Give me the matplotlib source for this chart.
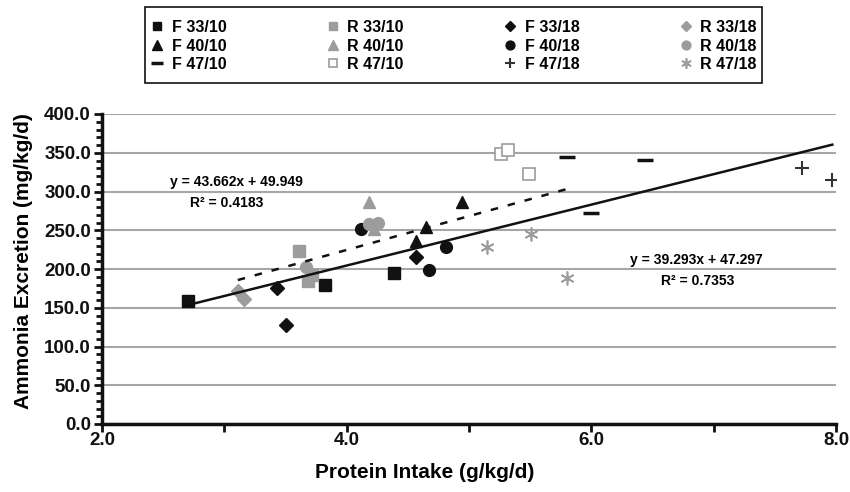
import matplotlib
matplotlib.use("Agg")
import matplotlib.pyplot as plt
from matplotlib.ticker import MultipleLocator, FixedLocator, FormatStrFormatter
from matplotlib.patches import Rectangle
import numpy as np

plt.rcParams['font.family'] = ['Liberation Sans', 'DejaVu Sans']
plt.rcParams['font.weight'] = 'bold'

# data (protein intake g/kg/d, ammonia mg/kg/d)
f33_10_x = [2.70, 3.82, 4.39]
f33_10_y = [159, 180, 195]
r33_10_x = [3.61, 3.68, 3.72]
r33_10_y = [223, 185, 192]
f33_18_x = [3.43, 3.50, 4.57]
f33_18_y = [175, 128, 215]
r33_18_x = [3.11, 3.16]
r33_18_y = [172, 161]
f40_10_x = [4.57, 4.65, 4.94]
f40_10_y = [236, 254, 286]
r40_10_x = [4.18, 4.22]
r40_10_y = [286, 251]
f40_18_x = [4.12, 4.67, 4.81]
f40_18_y = [251, 199, 228]
r40_18_x = [3.67, 4.18, 4.26]
r40_18_y = [202, 258, 260]
f47_10_x = [5.80, 6.00, 6.44]
f47_10_y = [344, 272, 341]
r47_10_x = [5.26, 5.32, 5.49]
r47_10_y = [348, 354, 323]
f47_18_x = [7.72, 7.97]
f47_18_y = [330, 315]
r47_18_x = [5.15, 5.51, 5.80]
r47_18_y = [229, 245, 188]

# fitted trend lines shown on the chart
fit_f = (39.293, 47.297, 0.7353)
fit_r = (43.662, 49.949, 0.4183)

BLK = '#111111'
GRY = '#9c9c9c'

fig = plt.figure(figsize=(8.5, 4.92), dpi=100)
ax = fig.add_axes([102/850, 1-424/492, 734/850, 310/492])

series = [
    ('F 33/10', f33_10_x, f33_10_y, dict(marker='s', ms=8, color=BLK)),
    ('F 40/10', f40_10_x, f40_10_y, dict(marker='^', ms=9, color=BLK)),
    ('F 47/10', f47_10_x, f47_10_y, dict(marker='_', ms=12, mew=2.5, color=BLK)),
    ('R 33/10', r33_10_x, r33_10_y, dict(marker='s', ms=8, color=GRY)),
    ('R 40/10', r40_10_x, r40_10_y, dict(marker='^', ms=9, color=GRY)),
    ('R 47/10', r47_10_x, r47_10_y, dict(marker='s', ms=8, mfc='white', mec=GRY, mew=1.2, color=GRY)),
    ('F 33/18', f33_18_x, f33_18_y, dict(marker='D', ms=7, color=BLK)),
    ('F 40/18', f40_18_x, f40_18_y, dict(marker='o', ms=8.5, color=BLK)),
    ('F 47/18', f47_18_x, f47_18_y, dict(marker='+', ms=10, mew=1.5, color='#333333')),
    ('R 33/18', r33_18_x, r33_18_y, dict(marker='D', ms=7, color=GRY)),
    ('R 40/18', r40_18_x, r40_18_y, dict(marker='o', ms=8.5, color=GRY)),
    ('R 47/18', r47_18_x, r47_18_y, dict(marker=(6, 2, 0), ms=10, mew=1.2, color=GRY)),
]

handles = []
for name, xs, ys, st in series:
    h, = ax.plot(xs, ys, ls='none', label=name, zorder=3, **st)
    handles.append(h)

# trend lines over the range of each group
fx = [x for n, xs, ys, st in series if n.startswith('F') for x in xs]
rx = [x for n, xs, ys, st in series if n.startswith('R') for x in xs]
xf = np.array([min(fx), max(fx)])
xr = np.array([min(rx), max(rx)])
ax.plot(xf, fit_f[0]*xf + fit_f[1], color=BLK, lw=1.8, zorder=4)
ax.plot(xr, fit_r[0]*xr + fit_r[1], color=BLK, lw=1.8, ls=(0, (3, 4)), zorder=4)

ax.text(3.10, 312, 'y = 43.662x + 49.949', ha='center', va='center', fontsize=10, fontweight='bold')
ax.text(3.02, 285, 'R² = 0.4183', ha='center', va='center', fontsize=10, fontweight='bold')
ax.text(6.86, 211, 'y = 39.293x + 47.297', ha='center', va='center', fontsize=10, fontweight='bold')
ax.text(6.87, 185, 'R² = 0.7353', ha='center', va='center', fontsize=10, fontweight='bold')

ax.set_xlim(2, 8)
ax.set_ylim(0, 400)
ax.xaxis.set_major_locator(FixedLocator([2, 4, 6, 8]))
ax.xaxis.set_minor_locator(FixedLocator([3, 5, 7]))
ax.xaxis.set_major_formatter(FormatStrFormatter('%.1f'))
ax.yaxis.set_major_locator(MultipleLocator(50))
ax.yaxis.set_minor_locator(MultipleLocator(10))
ax.yaxis.set_major_formatter(FormatStrFormatter('%.1f'))
ax.grid(axis='y', color='#a6a6a6', lw=1.5, zorder=0)
ax.set_axisbelow(True)

for s in ['top', 'right']:
    ax.spines[s].set_visible(False)
for s in ['left', 'bottom']:
    ax.spines[s].set_linewidth(2.5)
    ax.spines[s].set_color(BLK)
ax.tick_params(axis='both', which='both', direction='out', width=2, colors=BLK, labelsize=13.5, pad=2)
ax.tick_params(axis='x', which='both', length=6, pad=0)
ax.tick_params(axis='y', which='major', length=6)
ax.tick_params(axis='y', which='minor', length=4)
for t in ax.get_xticklabels() + ax.get_yticklabels():
    t.set_fontweight('bold')

ax.set_xlabel('Protein Intake (g/kg/d)', fontsize=15, fontweight='bold')
ax.set_ylabel('Ammonia Excretion (mg/kg/d)', fontsize=15, fontweight='bold')
ax.xaxis.set_label_coords(0.44, -0.127)
ax.yaxis.set_label_coords(-0.094, 0.524)

# legend: box drawn separately so its size matches the reference
fig.patches.append(Rectangle((145/850, 1-83/492), 617/850, 76/492, transform=fig.transFigure,
                             fill=False, ec=BLK, lw=1.2))
leg = fig.legend(handles=handles, loc='upper left', ncol=4, mode='expand',
                 bbox_to_anchor=(151/850, 1-20/492, 606/850, 0),
                 prop={'size': 11.5, 'weight': 'bold'}, markerscale=0.75,
                 handlelength=0.8, handletextpad=0.5, labelspacing=0.22,
                 borderpad=0, borderaxespad=0, frameon=False)

fig.savefig('out.png', dpi=100)
